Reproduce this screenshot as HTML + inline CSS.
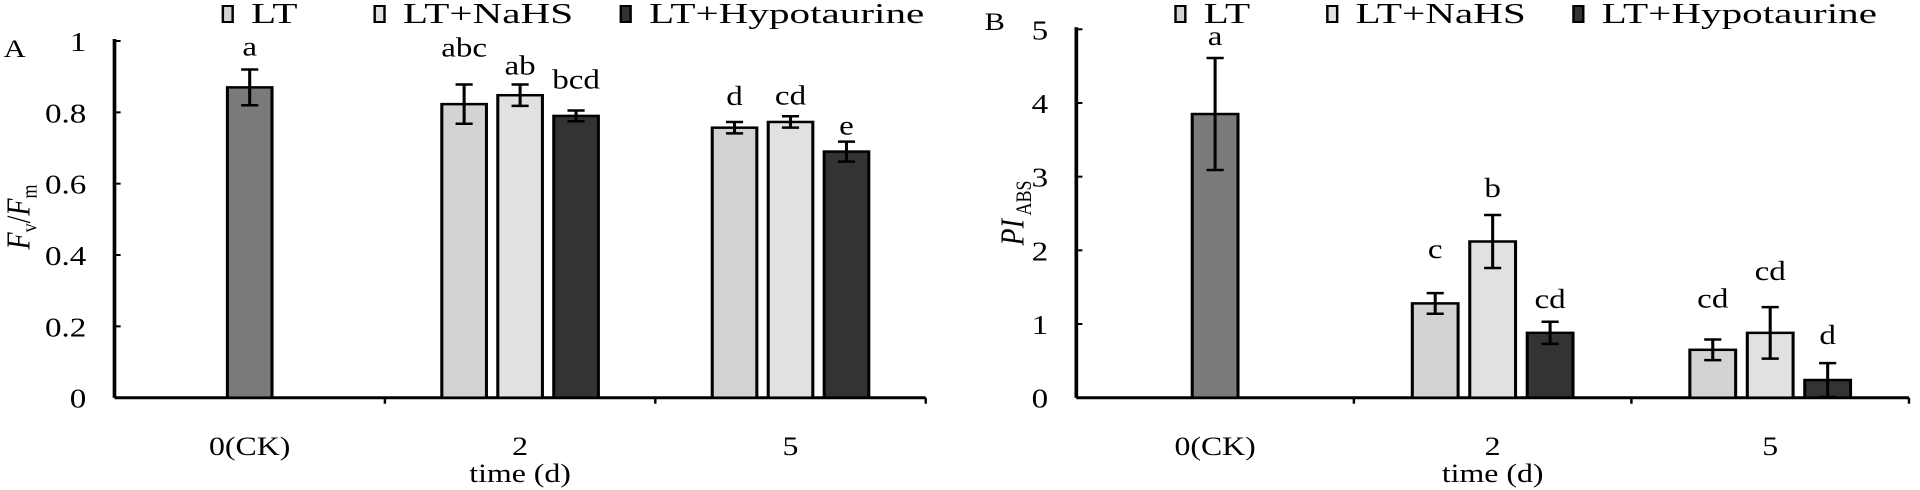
<!DOCTYPE html>
<html><head><meta charset="utf-8"><style>
html,body{margin:0;padding:0;background:#fff;}
svg{display:block;font-family:"Liberation Serif",serif;}
</style></head><body>
<svg id="chart" width="1920" height="490" viewBox="0 0 1568 490" preserveAspectRatio="none" xmlns="http://www.w3.org/2000/svg"></svg>
<script>
const categories = ["0(CK)", "2", "5"];
const seriesNames = ["LT", "LT+NaHS", "LT+Hypotaurine"];
// panel A: Fv/Fm
const aValues = [0.87, 0.823, 0.848, 0.79, 0.757, 0.773, 0.69];
const aErrors = [0.05, 0.055, 0.03, 0.015, 0.016, 0.016, 0.028];
const aLetters = ["a", "abc", "ab", "bcd", "d", "cd", "e"];
const aTicks = ["0", "0.2", "0.4", "0.6", "0.8", "1"];
const aTickVals = [0, 0.2, 0.4, 0.6, 0.8, 1];
// panel B: PI_ABS
const bValues = [3.85, 1.28, 2.12, 0.88, 0.65, 0.88, 0.24];
const bErrors = [0.76, 0.14, 0.36, 0.15, 0.14, 0.35, 0.23];
const bLetters = ["a", "c", "b", "cd", "cd", "cd", "d"];
const bTicks = ["0", "1", "2", "3", "4", "5"];
const bTickVals = [0, 1, 2, 3, 4, 5];

const NS = "http://www.w3.org/2000/svg";
const svg = document.getElementById("chart");
const fills = ["#7a7a7a", "#d3d3d3", "#e1e1e1", "#333333"];
function el(tag, attrs, parent, text) {
  const e = document.createElementNS(NS, tag);
  for (const k in attrs) e.setAttribute(k, attrs[k]);
  if (text !== undefined) e.textContent = text;
  (parent || svg).appendChild(e);
  return e;
}

function panel(p) {
  const g = el("g", {});
  
  
  const y = v => p.y0 - (v - p.vmin) / (p.vmax - p.vmin) * (p.y0 - p.yTop);
  const gw = (p.xEnd - p.x0) / 3;
  const slots = [[0, 0]];
  for (let gi = 1; gi < 3; gi++) for (let s = 0; s < 3; s++) slots.push([gi, s]);
  const bw = gw * 0.165, step = gw * 0.207;
  const barX = slots.map(([gi, s], i) => {
    const cx = p.x0 + gw * (gi + 0.5);
    return i === 0 ? cx - bw / 2 : cx + (s - 1) * step - bw / 2;
  });
  const ya = el("line", {x1: p.x0, y1: p.yTop - 2, x2: p.x0, y2: p.y0, stroke: "#000", "stroke-width": 3}, g);
  
  
  const xa = el("line", {x1: p.x0, y1: p.y0, x2: p.xEnd, y2: p.y0, stroke: "#000", "stroke-width": 3}, g);
  
  
  p.tickVals.forEach((v, i) => {
    el("line", {x1: p.x0, y1: y(v), x2: p.x0 + 5, y2: y(v), stroke: "#000", "stroke-width": 2}, g);
    const t = el("text", {x: p.x0 - 23, y: y(v) + 10, "text-anchor": "end", "font-size": 27}, g, p.ticks[i]);
    
    
  });
  for (let gi = 1; gi <= 3; gi++) {
    const gx = p.x0 + gw * gi;
    el("line", {x1: gx, y1: p.y0, x2: gx, y2: p.y0 + 6, stroke: "#000", "stroke-width": 2}, g);
  }
  categories.forEach((c, i) => {
    const t = el("text", {x: p.x0 + gw * (i + 0.5), y: 455, "text-anchor": "middle", "font-size": 26}, g, c);
    
    
  });
  const xt = el("text", {x: p.x0 + gw * 1.5, y: 482, "text-anchor": "middle", "font-size": 26}, g, "time (d)");
  
  
  p.values.forEach((v, i) => {
    const x = barX[i];
    const fill = i === 0 ? fills[0] : fills[1 + (i - 1) % 3];
    const r = el("rect", {x: x, y: y(v), width: bw, height: p.y0 - y(v), fill: fill, stroke: "#000", "stroke-width": 2.5}, g);
    
    
    const cx = x + bw / 2, e = p.errors[i];
    const top = y(v + e), bot = y(Math.max(v - e, p.vmin));
    const eb = el("path", {d: `M${cx},${top}V${bot}M${cx - 7},${top}H${cx + 7}M${cx - 7},${bot}H${cx + 7}`, stroke: "#000", "stroke-width": 2.5, fill: "none"}, g);
    
    
    const lt = el("text", {x: cx, y: top - 12 - p.lift[i], "text-anchor": "middle", "font-size": 27}, g, p.letters[i]);
    
    
  });
  p.legend.forEach((lx, i) => {
    const b = el("rect", {x: lx, y: 6, width: 8, height: 16, fill: fills[i + 1], stroke: "#000", "stroke-width": 2}, g);
    
    
    const t = el("text", {transform: `translate(${lx + 23},23) scale(1.2,1)`, "font-size": 28}, g, seriesNames[i]);
    
    
  });
  const pl = el("text", {x: p.letterX, y: p.letterY, "font-size": 25}, g, p.panelLetter);
  
  
  const yt = el("text", {transform: `translate(${p.ylabX},${p.ylabY}) rotate(-90)`, "text-anchor": "middle", "font-size": 28}, g);
  
  
  p.ylabel.forEach(([txt, st]) => {
    el("tspan", st, yt, txt);
  });
}

panel({name: "panel-a-fvfm", x0: 93.5, xEnd: 756, y0: 397.7, yTop: 41, vmin: 0, vmax: 1,
  values: aValues, errors: aErrors, letters: aLetters, ticks: aTicks, tickVals: aTickVals,
  lift: [2, 16, -2, 10, 5, 0, -5], legend: [182, 306, 507], letterX: 3, letterY: 57, panelLetter: "A",
  ylabX: 24, ylabY: 217,
  ylabel: [["F", {"font-style": "italic"}], ["v", {"font-size": 18, dy: 6}], ["/", {dy: -6}], ["F", {"font-style": "italic"}], ["m", {"font-size": 18, dy: 6}]]});

panel({name: "panel-b-piabs", x0: 879, xEnd: 1559, y0: 397.7, yTop: 29.3, vmin: 0, vmax: 5,
  values: bValues, errors: bErrors, letters: bLetters, ticks: bTicks, tickVals: bTickVals,
  lift: [1, 23, 6, 2, 20, 15, 7], legend: [960, 1084, 1285], letterX: 804, letterY: 30, panelLetter: "B",
  ylabX: 836, ylabY: 213,
  ylabel: [["PI", {"font-style": "italic"}], [" ABS", {"font-size": 18, dy: 6}]]});
</script>
</body></html>
